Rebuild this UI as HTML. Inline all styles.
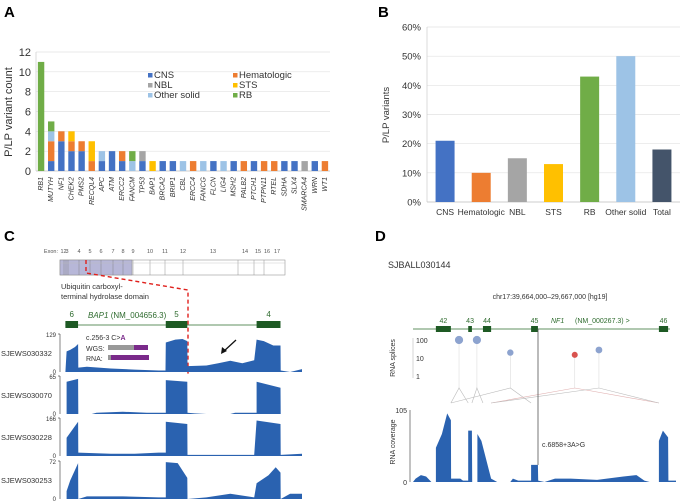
<!DOCTYPE html>
<html><head><meta charset="utf-8"><style>
body{margin:0;background:#fff;}
svg{display:block;font-family:"Liberation Sans",Arial,sans-serif;}
</style></head><body>
<svg id="fig" width="681" height="504" viewBox="0 0 681 504" xmlns="http://www.w3.org/2000/svg">
<text x="4" y="17" font-size="15" font-weight="bold">A</text>
<text x="378" y="17" font-size="15" font-weight="bold">B</text>
<text x="4" y="241" font-size="15" font-weight="bold">C</text>
<text x="375" y="241" font-size="15" font-weight="bold">D</text>
<g id="pa"></g>
<g id="pb"></g>
<g id="pc"></g>
<g id="pd"></g>
</svg>
<script>
const NS="http://www.w3.org/2000/svg";
function mk(p,t,a,txt){const e=document.createElementNS(NS,t);for(const k in a)e.setAttribute(k,a[k]);if(txt!==undefined)e.textContent=txt;p.appendChild(e);return e;}
const COL={CNS:"#4472C4",Hematologic:"#ED7D31",NBL:"#A5A5A5",STS:"#FFC000","Other solid":"#9DC3E6",RB:"#70AD47",Total:"#44546A"};

// ---- Panel A data ----
const genes=["RB1","MUTYH","NF1","CHEK2","PMS2","RECQL4","APC","ATM","ERCC2","FANCM","TP53","BAP1","BRCA2","BRIP1","CBL","ERCC4","FANCG","FLCN","LIG4","MSH2","PALB2","PTCH1","PTPN11","RTEL","SDHA","SLX4","SMARCA4","WRN","WT1"];
const seriesNames=["CNS","Hematologic","NBL","STS","Other solid","RB"];
const cnsCounts  =[0,1,3,2,2,0,1,2,1,0,1,0,1,1,0,0,0,1,0,1,0,1,0,0,1,1,0,1,0];
const hemCounts  =[0,2,1,1,1,1,0,0,1,0,0,0,0,0,0,1,0,0,0,0,1,0,1,1,0,0,0,0,1];
const nblCounts  =[0,0,0,0,0,0,0,0,0,0,1,0,0,0,0,0,0,0,0,0,0,0,0,0,0,0,1,0,0];
const stsCounts  =[0,0,0,1,0,2,0,0,0,0,0,1,0,0,0,0,0,0,0,0,0,0,0,0,0,0,0,0,0];
const otherCounts=[0,1,0,0,0,0,1,0,0,1,0,0,0,0,1,0,1,0,1,0,0,0,0,0,0,0,0,0,0];
const rbCounts   =[11,1,0,0,0,0,0,0,0,1,0,0,0,0,0,0,0,0,0,0,0,0,0,0,0,0,0,0,0];
const aTicks=[0,2,4,6,8,10,12];

// ---- Panel B data ----
const bCats=["CNS","Hematologic","NBL","STS","RB","Other solid","Total"];
const bVals=[21,10,15,13,43,50,18];
const bTicks=[0,10,20,30,40,50,60];

(function(){
 const g=document.getElementById('pa');
 const x0=36,x1=330,y0=171,y1=52;
 const ys=v=>y0-(v/12)*(y0-y1);
 const step=(x1-x0)/genes.length;
 const xs=i=>x0+step*(i+0.5);
 aTicks.forEach(t=>{
  const l=mk(g,'line',{x1:x0,x2:x1,y1:ys(t),y2:ys(t),stroke:t?'#e2e2e2':'#bbb','stroke-width':0.7});
  
  const tx=mk(g,'text',{x:31,y:ys(t)+4,'font-size':11,'text-anchor':'end',fill:'#333'},t);
  
 });
 mk(g,'line',{x1:x0,x2:x0,y1:y1,y2:y0,stroke:'#ccc','stroke-width':0.7});
 const yt=mk(g,'text',{x:12,y:112,'font-size':11,'text-anchor':'middle',fill:'#333',transform:'rotate(-90 12 112)'},'P/LP variant count');
 
 const arrs=[cnsCounts,hemCounts,nblCounts,stsCounts,otherCounts,rbCounts];
 genes.forEach((gn,i)=>{
  let acc=0;
  arrs.forEach((arr,s)=>{
   const v=arr[i]; if(!v)return;
   const r=mk(g,'rect',{x:xs(i)-3.2,y:ys(acc+v),width:6.4,height:ys(acc)-ys(acc+v),fill:COL[seriesNames[s]]});
   
   
   acc+=v;
  });
  const tx=mk(g,'text',{x:xs(i)+2,y:177,'font-size':7,'font-style':'italic','text-anchor':'end',fill:'#333',transform:`rotate(-90 ${xs(i)+2} 177)`},gn);
  
 });
 const lg=[[148,78],[233,78],[148,88],[233,88],[148,98],[233,98]];
 seriesNames.forEach((s,k)=>{
  const [lx,ly]=lg[k];
  const r=mk(g,'rect',{x:lx,y:ly-5,width:4.5,height:4.5,fill:COL[s]});
  
  const t=mk(g,'text',{x:lx+6,y:ly,'font-size':9.5,fill:'#333'},s);
  
 });
})();

(function(){
 const g=document.getElementById('pb');
 const x0=427,x1=680,y0=202,y1=27;
 const ys=v=>y0-(v/60)*(y0-y1);
 const step=(x1-x0)/bCats.length;
 const xs=i=>x0+step*(i+0.5);
 bTicks.forEach(t=>{
  const l=mk(g,'line',{x1:x0,x2:x1,y1:ys(t),y2:ys(t),stroke:t?'#e2e2e2':'#bbb','stroke-width':0.7});
  
  const tx=mk(g,'text',{x:421,y:ys(t)+3.5,'font-size':9.5,'text-anchor':'end',fill:'#333'},t+'%');
  
 });
 mk(g,'line',{x1:x0,x2:x0,y1:y1,y2:y0,stroke:'#ccc','stroke-width':0.7});
 const yt=mk(g,'text',{x:389,y:115,'font-size':9.5,'text-anchor':'middle',fill:'#333',transform:'rotate(-90 389 115)'},'P/LP variants');
 
 bCats.forEach((c,i)=>{
  const r=mk(g,'rect',{x:xs(i)-9.5,y:ys(bVals[i]),width:19,height:y0-ys(bVals[i]),fill:COL[c]});
  
  const t=mk(g,'text',{x:xs(i),y:215,'font-size':8.5,'text-anchor':'middle',fill:'#333'},c);
  
 });
})();

// ---- Panel C data (positions 0..100 across locus, values raw read depth) ----
const cSamples=["SJEWS030332","SJEWS030070","SJEWS030228","SJEWS030253"];
const cMax=[129,65,166,72];
const cPos1=[0,1,1.5,3,5,6.3,6.4,10,20,30,40,42.9,43,47,50,52,52.1,60,65,70,75,80,81,84,88,91,91.1,95,100];
const cVal1=[0,0,70,75,85,95,15,18,12,8,5,5,100,110,112,105,20,22,30,38,30,40,110,105,90,90,5,0,10];
const cPos2=[0,1.5,1.5,6.3,6.4,12,14,25,35,43,43,52,52.1,55,60,70,72,81,81,91,91.1,100];
const cVal2=[0,0,55,60,0,0,2,4,2,2,58,55,2,1,0,0,2,2,55,45,0,0];
const cPos3=[0,1.5,1.5,6.3,6.4,20,30,40,43,43,52,52.1,60,70,80,81,91,91.1,100];
const cVal3=[0,0,80,150,15,10,10,15,15,150,140,5,5,5,5,155,140,5,10];
const cPos4=[0,1.5,1.5,3,5,6.3,6.4,10,25,40,43,43,48,52,52.1,60,70,80,81,86,89,91,91.1,95,100];
const cVal4=[0,0,15,35,55,68,0,5,5,3,3,70,68,40,0,3,10,3,30,45,60,50,0,10,10];
const cExonStart=[1,43,81];
const cExonEnd=[6.3,52,91];
const cExonLabels=["6","5","4"];

(function(){
 const g=document.getElementById('pc');
 const X=p=>63+p*2.39;
 const exNums=["1","2","3","4","5","6","7","8","9","10","11","12","13","14","15","16","17"];
 const exX=[62,65,67,79,90,101,113,123,133,150,165,183,213,245,258,267,277];
 mk(g,'text',{x:58,y:253,'font-size':5.5,'text-anchor':'end',fill:'#555'},'Exon:');
 exNums.forEach((n,i)=>{const t=mk(g,'text',{x:exX[i],y:253,'font-size':5.5,'text-anchor':'middle',fill:'#555'},n);});
 const pb=mk(g,'rect',{x:60,y:260,width:225,height:15,fill:'#fff',stroke:'#999','stroke-width':0.6});
 
 const dom=mk(g,'rect',{x:60,y:260,width:72,height:15,fill:'#b7b7d8',stroke:'#888','stroke-width':0.5});
 
 [64,66,68,79,90,101,113,123,133,150,165,183,238,254,264].forEach(x=>mk(g,'line',{x1:x,x2:x,y1:260,y2:275,stroke:'#777','stroke-width':0.4}));
 mk(g,'line',{x1:60,x2:285,y1:263,y2:263,stroke:'#bbb','stroke-width':0.4});
 mk(g,'path',{d:'M86 260 V273 L188 290 V375',stroke:'#e0201c','stroke-width':1.4,fill:'none','stroke-dasharray':'4 3'});
 mk(g,'text',{x:61,y:289,'font-size':7.5,fill:'#333'},'Ubiquitin carboxyl-');
 mk(g,'text',{x:61,y:299,'font-size':7.5,fill:'#333'},'terminal hydrolase domain');
 mk(g,'line',{x1:X(1),x2:X(91),y1:325,y2:325,stroke:'#2e6b2e','stroke-width':0.8});
 cExonStart.forEach((s,i)=>{
  const r=mk(g,'rect',{x:X(s),y:321,width:X(cExonEnd[i])-X(s),height:7,fill:'#1e5a24'});
  
  mk(g,'text',{x:(X(s)+X(cExonEnd[i]))/2,y:317,'font-size':8,'text-anchor':'middle',fill:'#2e6b2e'},cExonLabels[i]);
 });
 const gt=mk(g,'text',{x:88,y:318,'font-size':8,fill:'#2e6b2e'});
 mk(gt,'tspan',{'font-style':'italic'},'BAP1');mk(gt,'tspan',{},' (NM_004656.3)');
 
 const pos=[cPos1,cPos2,cPos3,cPos4],vals=[cVal1,cVal2,cVal3,cVal4];
 const tops=[334,376,418,461],bots=[372,414,456,499];
 cSamples.forEach((s,k)=>{
  const Y=v=>bots[k]-v/cMax[k]*(bots[k]-tops[k]);
  let d='M'+X(pos[k][0])+' '+bots[k];
  pos[k].forEach((p,i)=>{d+=' L'+X(p).toFixed(1)+' '+Y(vals[k][i]).toFixed(1);});
  d+=' L'+X(100)+' '+bots[k]+' Z';
  const a=mk(g,'path',{d:d,fill:'#2a62b0'});
  
  mk(g,'line',{x1:60,x2:60,y1:tops[k],y2:bots[k],stroke:'#333','stroke-width':0.6});
  mk(g,'line',{x1:58,x2:60,y1:tops[k],y2:tops[k],stroke:'#333','stroke-width':0.6});
  mk(g,'text',{x:56,y:tops[k]+3,'font-size':6,'text-anchor':'end',fill:'#333'},cMax[k]);
  mk(g,'text',{x:56,y:bots[k]+2,'font-size':6,'text-anchor':'end',fill:'#333'},'0');
  const n=mk(g,'text',{x:1,y:(tops[k]+bots[k])/2+3,'font-size':7.5,fill:'#333'},s);
  
 });
 mk(g,'text',{x:86,y:340,'font-size':7,fill:'#333'},'c.256-3 C>').appendChild(Object.assign(document.createElementNS(NS,'tspan'),{textContent:'A'}));
 g.lastChild.lastChild.setAttribute('fill','#7a2a8a');g.lastChild.lastChild.setAttribute('font-weight','bold');
 mk(g,'text',{x:86,y:351,'font-size':7,fill:'#333'},'WGS:');
 mk(g,'rect',{x:108,y:345,width:26,height:5,fill:'#999'});mk(g,'rect',{x:134,y:345,width:14,height:5,fill:'#7a2a8a'});
 mk(g,'text',{x:86,y:361,'font-size':7,fill:'#333'},'RNA:');
 mk(g,'rect',{x:108,y:355,width:3,height:5,fill:'#999'});mk(g,'rect',{x:111,y:355,width:38,height:5,fill:'#7a2a8a'});
 mk(g,'path',{d:'M236 340 L223 352',stroke:'#111','stroke-width':1.3});
 mk(g,'path',{d:'M221 354 L222 347 L227 351 Z',fill:'#111'});
})();

// ---- Panel D data ----
const dPos=[0,1,3,5,7,8.7,8.7,11,13,14.4,14.5,18,19,21,21,22.4,22.5,24.5,24.5,26,29.7,32,37,38,40,44.9,44.9,47.5,47.6,50,54,60,70,80,85,88,90,93.5,93.5,95,97,97.1,100];
const dVal=[0,5,10,8,0,0,50,70,100,90,5,5,2,2,75,75,0,0,70,60,5,0,0,5,2,2,25,25,2,0,5,5,3,8,10,2,0,0,60,75,65,2,2];
const dExonStart=[8.7,21,26.6,44.9,93.5];
const dExonEnd=[14.4,22.4,29.7,47.5,97];
const dExonLabels=["42","43","44","45","46"];
const spliceX=[17.5,24.3,37,61.5,70.7];
const spliceCount=[100,100,20,15,28];
const spliceColor=["#8da3cf","#8da3cf","#8da3cf","#d9534f","#8da3cf"];

(function(){
 const g=document.getElementById('pd');
 const X=p=>413+p*2.63;
 const t1=mk(g,'text',{x:388,y:268,'font-size':9,fill:'#333'},'SJBALL030144');
 
 mk(g,'text',{x:550,y:299,'font-size':7,'text-anchor':'middle',fill:'#333'},'chr17:39,664,000–29,667,000 [hg19]');
 mk(g,'line',{x1:413,x2:670,y1:329,y2:329,stroke:'#2e6b2e','stroke-width':0.8});
 dExonStart.forEach((s,i)=>{
  const r=mk(g,'rect',{x:X(s),y:326,width:X(dExonEnd[i])-X(s),height:6,fill:'#1e5a24'});
  
  mk(g,'text',{x:(X(s)+X(dExonEnd[i]))/2,y:323,'font-size':7,'text-anchor':'middle',fill:'#2e6b2e'},dExonLabels[i]);
 });
 mk(g,'text',{x:551,y:323,'font-size':7,'font-style':'italic',fill:'#2e6b2e'},'NF1');
 mk(g,'text',{x:575,y:323,'font-size':7,fill:'#2e6b2e'},'(NM_000267.3) >');
 const SY=c=>376-Math.log10(c)*18;
 mk(g,'line',{x1:413,x2:413,y1:338,y2:378,stroke:'#aaa','stroke-width':0.5});
 [[1,'1'],[10,'10'],[100,'100']].forEach(([v,l])=>mk(g,'text',{x:416,y:SY(v)+3,'font-size':7,fill:'#333'},l));
 const st=mk(g,'text',{x:395,y:358,'font-size':7,'text-anchor':'middle',fill:'#333',transform:'rotate(-90 395 358)'},'RNA splices');
 
 const juncL=[14.4,22.4,14.4,29.7,29.7];
 const juncR=[21,26.6,44.9,93.5,93.5];
 spliceX.forEach((sx,i)=>{
  const cy=SY(spliceCount[i]);
  mk(g,'line',{x1:X(sx),x2:X(sx),y1:cy,y2:388,stroke:'#ddd','stroke-width':0.6});
  mk(g,'path',{d:`M${X(juncL[i])} 403 L${X(sx)} 388 L${X(juncR[i])} 403`,fill:'none',stroke:i==3?'#e0b0b0':'#bbb','stroke-width':0.6});
  const c=mk(g,'circle',{cx:X(sx),cy:cy,r:1.5+Math.log10(spliceCount[i])*1.3,fill:spliceColor[i]});
  
 });
 const Y=v=>410+(105-v)/105*72;
 let d='M'+X(0)+' 482';
 dPos.forEach((p,i)=>{d+=' L'+X(p).toFixed(1)+' '+Y(dVal[i]).toFixed(1);});
 d+=' L'+X(100)+' 482 Z';
 const a=mk(g,'path',{d:d,fill:'#2a62b0'});
 
 mk(g,'line',{x1:410,x2:410,y1:410,y2:482,stroke:'#333','stroke-width':0.6});
 mk(g,'text',{x:407,y:413,'font-size':7,'text-anchor':'end',fill:'#333'},'105');
 mk(g,'text',{x:407,y:485,'font-size':7,'text-anchor':'end',fill:'#333'},'0');
 const ct=mk(g,'text',{x:395,y:442,'font-size':7,'text-anchor':'middle',fill:'#333',transform:'rotate(-90 395 442)'},'RNA coverage');
 
 mk(g,'line',{x1:538,x2:538,y1:329,y2:465,stroke:'#555','stroke-width':0.8});
 mk(g,'text',{x:542,y:447,'font-size':7,fill:'#333'},'c.6858+3A>G');
})();
</script>
</body></html>
